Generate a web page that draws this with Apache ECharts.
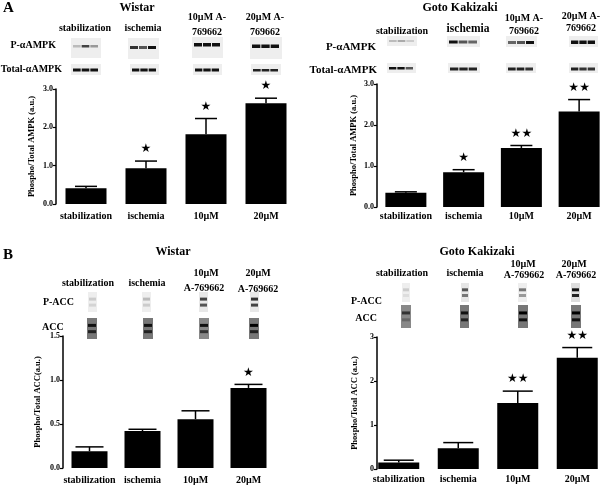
<!DOCTYPE html>
<html><head><meta charset="utf-8">
<script src="https://cdn.jsdelivr.net/npm/echarts@6/dist/echarts.min.js"></script>
<style>html,body{margin:0;padding:0;background:#fff}#c{width:608px;height:485px}</style>
</head><body><div id="c"></div>
<script>
// ---- data ----
const categories = ['stabilization', 'ischemia', '10µM', '20µM'];
const ampkWistar = [0.41, 0.93, 1.82, 2.63];
const ampkWistarErr = [0.05, 0.19, 0.41, 0.13];
const ampkWistarSig = ['', '★', '★', '★'];
const ampkGK = [0.35, 0.85, 1.44, 2.33];
const ampkGKErr = [0.02, 0.06, 0.06, 0.29];
const ampkGKSig = ['', '★', '★★', '★★'];
const accWistar = [0.19, 0.42, 0.555, 0.91];
const accWistarErr = [0.05, 0.02, 0.095, 0.04];
const accWistarSig = ['', '', '', '★'];
const accGK = [0.145, 0.47, 1.5, 2.53];
const accGKErr = [0.055, 0.13, 0.27, 0.23];
const accGKSig = ['', '', '★★', '★★'];
const ampkTicks = ['0.0', '1.0', '2.0', '3.0'];
const accWistarTicks = ['0.0', '0.5', '1.0', '1.5'];
const accGKTicks = ['0', '1', '2', '3'];

// ---- layout / style ----
const SERIF = '"Liberation Serif","Times New Roman",serif';
const chart = echarts.init(document.getElementById('c'), null, {renderer: 'canvas'});

function yAxis(gi, max, interval, ticks, name, nameGap, offset) {
  return {
    gridIndex: gi, type: 'value', min: 0, max: max, interval: interval, offset: offset || 0,
    axisLine: {show: true, lineStyle: {color: '#000', width: 1.5}},
    axisTick: {show: true, length: 3, lineStyle: {color: '#000', width: 1.2}},
    splitLine: {show: false},
    axisLabel: {color: '#000', fontSize: 8, fontWeight: 'bold', fontFamily: SERIF, margin: 3,
      formatter: function (v) { return ticks[Math.round(v / interval)]; }},
    name: name, nameLocation: 'middle', nameGap: nameGap,
    nameTextStyle: {color: '#000', fontSize: 8.5, fontWeight: 'bold', fontFamily: SERIF}
  };
}
function xAxis(gi, margin) {
  return {
    gridIndex: gi, type: 'category', data: categories,
    axisLine: {show: false}, axisTick: {show: false},
    axisLabel: {color: '#000', fontSize: 10, fontWeight: 'bold', fontFamily: SERIF, margin: margin, interval: 0}
  };
}
function bars(gi, vals, bw) {
  return {type: 'bar', xAxisIndex: gi, yAxisIndex: gi, data: vals, barWidth: bw,
    itemStyle: {color: '#000'}, silent: true, animation: false};
}
function errs(gi, vals, e, sig, capHalf, starGap) {
  return {
    type: 'custom', xAxisIndex: gi, yAxisIndex: gi, animation: false, silent: true,
    data: vals.map(function (v, i) { return [i, v, e[i]]; }),
    renderItem: function (params, api) {
      const i = api.value(0), v = api.value(1), er = api.value(2);
      const p0 = api.coord([i, v]);
      const p1 = api.coord([i, v + er]);
      const children = [
        {type: 'line', shape: {x1: p0[0], y1: p0[1], x2: p1[0], y2: p1[1]}, style: {stroke: '#000', lineWidth: 1.5}},
        {type: 'line', shape: {x1: p1[0] - capHalf, y1: p1[1], x2: p1[0] + capHalf, y2: p1[1]}, style: {stroke: '#000', lineWidth: 1.5}}
      ];
      const s = sig[params.dataIndex];
      if (s) children.push({type: 'text', style: {text: s, x: p1[0], y: p1[1] - starGap,
        fill: '#000', font: '12px "DejaVu Sans"', align: 'center', verticalAlign: 'middle'}});
      return {type: 'group', children: children};
    }
  };
}

// ---- decorations (blots & labels) ----
const G = [];
function txt(t, x, y, size, align) {
  G.push({type: 'text', silent: true, style: {text: t, x: x, y: y, fill: '#000',
    font: 'bold ' + size + 'px ' + SERIF, align: align || 'center', verticalAlign: 'middle'}});
}
function rect(x, y, w, h, c) {
  G.push({type: 'rect', silent: true, shape: {x: x, y: y, width: w, height: h}, style: {fill: c}});
}
function ampkBlot(x, y, w, h, by, bh, shades) {
  rect(x, y, w, h, '#eeeeee');
  const lw = (w - 4) / 3;
  shades.forEach(function (c, k) { rect(x + 2 + k * lw, by, lw - 1, bh, c); });
}
function accBlot(x, y, w, h, bg, b1, b2) {
  rect(x, y, w, h, bg);
  rect(x + 1, y + h * 0.28, w - 2, 3, b1);
  rect(x + 1, y + h * 0.58, w - 2, 3, b2);
}

// Panel A - Wistar
txt('A', 3, 8, 15, 'left');
txt('Wistar', 137, 8, 12);
txt('stabilization', 85, 28, 10); txt('ischemia', 143, 28, 10);
txt('10µM A-', 207, 17, 10); txt('769662', 207, 32, 10);
txt('20µM A-', 265, 17, 10); txt('769662', 265, 32, 10);
txt('P-αAMPK', 56, 45, 10, 'right'); txt('Total-αAMPK', 62, 69, 10, 'right');
ampkBlot(71, 38, 30, 20, 45, 2.5, ['#bbb', '#444', '#999']);
ampkBlot(128, 38, 31, 21, 46, 3, ['#333', '#555', '#111']);
ampkBlot(192, 37, 31, 21, 43, 3.5, ['#111', '#111', '#111']);
ampkBlot(250, 37, 32, 22, 44.5, 3.5, ['#111', '#111', '#111']);
ampkBlot(71, 64, 30, 11, 68.5, 3, ['#111', '#111', '#111']);
ampkBlot(130, 64, 29, 11, 68.5, 3, ['#111', '#111', '#111']);
ampkBlot(193, 64, 29, 11, 68.5, 3, ['#111', '#111', '#111']);
ampkBlot(251, 64, 30, 11, 69, 2.5, ['#222', '#222', '#222']);

// Panel A - Goto Kakizaki
txt('Goto Kakizaki', 460, 8, 12);
txt('stabilization', 402, 31, 10); txt('ischemia', 468, 29, 11.5);
txt('10µM A-', 524, 18, 10); txt('769662', 524, 31, 10);
txt('20µM A-', 581, 16, 10); txt('769662', 581, 28, 10);
txt('P-αAMPK', 376, 47, 11, 'right'); txt('Total-αAMPK', 377, 70, 11, 'right');
ampkBlot(387, 36, 30, 10, 40, 2, ['#bbb', '#aaa', '#ccc']);
ampkBlot(447, 36, 33, 11, 40.5, 3, ['#111', '#555', '#666']);
ampkBlot(506, 36, 31, 11, 41, 3, ['#666', '#555', '#111']);
ampkBlot(569, 36, 29, 11, 40.5, 3.5, ['#111', '#111', '#111']);
ampkBlot(387, 63, 29, 10, 67, 2.5, ['#111', '#111', '#555']);
ampkBlot(448, 63, 32, 10, 67.5, 3, ['#222', '#222', '#222']);
ampkBlot(506, 63, 30, 10, 67.5, 3, ['#222', '#222', '#333']);
ampkBlot(569, 63, 29, 10, 67.5, 3, ['#222', '#333', '#333']);

// Panel B - Wistar
txt('B', 3, 255, 15, 'left');
txt('Wistar', 173, 252, 12);
txt('stabilization', 88, 283, 10); txt('ischemia', 147, 283, 10);
txt('10µM', 206, 273, 10); txt('A-769662', 204, 288, 10);
txt('20µM', 258, 273, 10); txt('A-769662', 258, 289, 10);
txt('P-ACC', 74, 302, 10, 'right'); txt('ACC', 42, 327, 10, 'left');
accBlot(88, 292, 9, 20, '#eee', '#ccc', '#d4d4d4');
accBlot(142, 292, 9, 20, '#eee', '#bbb', '#ccc');
accBlot(199, 292, 9, 20, '#e8e8e8', '#444', '#555');
accBlot(250, 292, 9, 20, '#e8e8e8', '#333', '#444');
accBlot(87, 318, 10, 21, '#777', '#111', '#222');
accBlot(143, 318, 10, 21, '#777', '#111', '#222');
accBlot(199, 318, 10, 21, '#888', '#111', '#333');
accBlot(249, 318, 10, 21, '#777', '#000', '#222');

// Panel B - Goto Kakizaki
txt('Goto Kakizaki', 477, 252, 12);
txt('stabilization', 402, 273, 10); txt('ischemia', 465, 273, 10);
txt('10µM', 523, 264, 10); txt('A-769662', 524, 275, 10);
txt('20µM', 574, 264, 10); txt('A-769662', 576, 275, 10);
txt('P-ACC', 382, 301, 10, 'right'); txt('ACC', 377, 318, 10, 'right');
accBlot(402, 283, 8, 19, '#eee', '#ccc', '#ddd');
accBlot(461, 283, 8, 19, '#e6e6e6', '#555', '#777');
accBlot(518, 283, 9, 19, '#eee', '#777', '#999');
accBlot(571, 283, 9, 19, '#ddd', '#111', '#222');
accBlot(401, 305, 10, 23, '#888', '#333', '#666');
accBlot(460, 305, 9, 23, '#777', '#111', '#222');
accBlot(518, 305, 10, 23, '#777', '#000', '#111');
accBlot(571, 305, 10, 23, '#777', '#000', '#111');

chart.setOption({
  animation: false,
  backgroundColor: '#fff',
  grid: [
    {left: 56, top: 89, width: 240, height: 115},
    {left: 377, top: 84, width: 240, height: 123},
    {left: 63, top: 336, width: 212, height: 132},
    {left: 369, top: 337, width: 238, height: 132}
  ],
  xAxis: [xAxis(0, 7), xAxis(1, 4), xAxis(2, 7), xAxis(3, 5)],
  yAxis: [
    yAxis(0, 3, 1, ampkTicks, 'Phospho/Total AMPK (a.u.)', 20),
    yAxis(1, 3, 1, ampkTicks, 'Phospho/Total AMPK (a.u.)', 19),
    yAxis(2, 1.5, 0.5, accWistarTicks, 'Phospho/Total ACC(a.u.)', 21),
    yAxis(3, 3, 1, accGKTicks, 'Phospho/Total ACC (a.u.)', 18, -8)
  ],
  series: [
    bars(0, ampkWistar, 41), errs(0, ampkWistar, ampkWistarErr, ampkWistarSig, 11, 12),
    bars(1, ampkGK, 41), errs(1, ampkGK, ampkGKErr, ampkGKSig, 11, 12),
    bars(2, accWistar, 36), errs(2, accWistar, accWistarErr, accWistarSig, 14, 12),
    bars(3, accGK, 41), errs(3, accGK, accGKErr, accGKSig, 15, 12)
  ],
  graphic: G
});
</script></body></html>
